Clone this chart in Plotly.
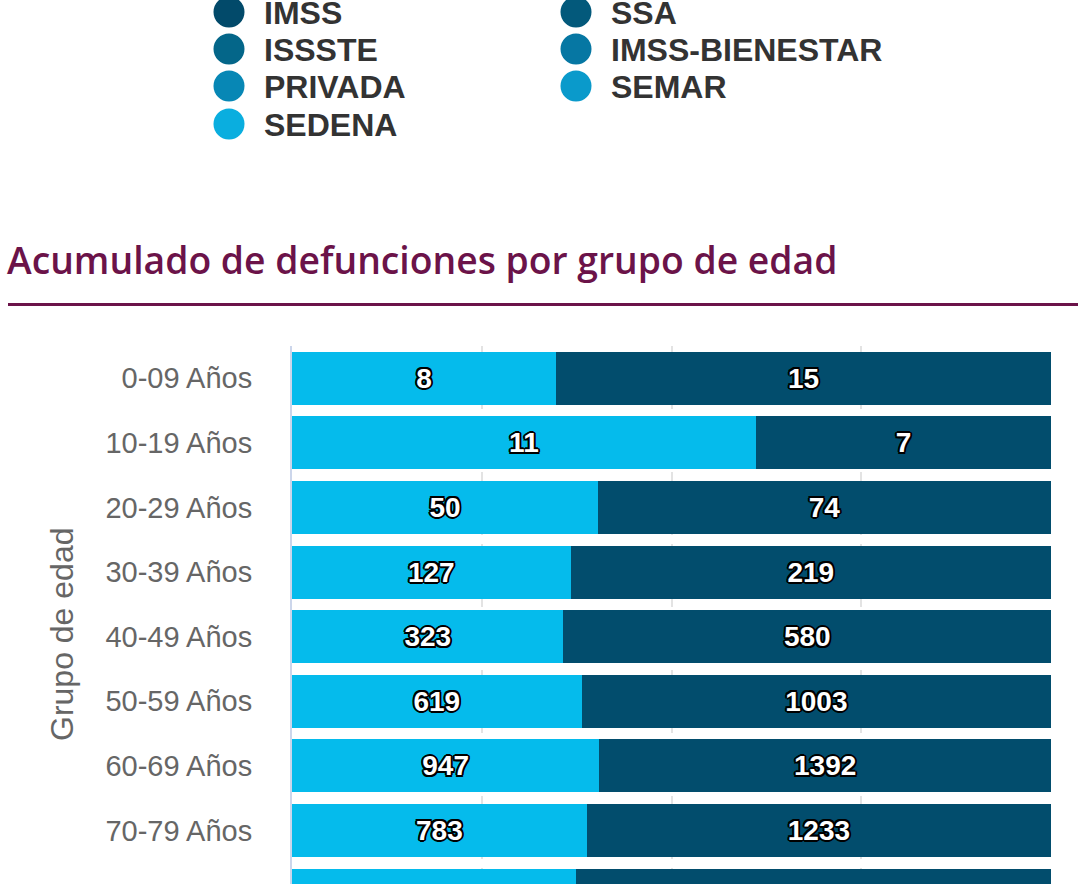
import plotly.graph_objects as go

# ---------------- data ----------------
age_groups = ["0-09 Años", "10-19 Años", "20-29 Años", "30-39 Años", "40-49 Años",
              "50-59 Años", "60-69 Años", "70-79 Años", "80-89 Años"]
series_a_name = "Mujeres"
series_a = [8, 11, 50, 127, 323, 619, 947, 783, 412]
series_b_name = "Hombres"
series_b = [15, 7, 74, 219, 580, 1003, 1392, 1233, 690]

legend_names = ["IMSS", "SSA", "ISSSTE", "IMSS-BIENESTAR", "PRIVADA", "SEMAR", "SEDENA"]
legend_colors = ["#024a6a", "#03597b", "#046689", "#0677a3", "#0787b5", "#0a9acb", "#0aaedf"]

title_text = "Acumulado de defunciones por grupo de edad"
yaxis_title = "Grupo de edad"

# ---------------- layout helpers ----------------
W, H = 1090, 884
L, R, T, B = 292, 1051, 346, 884
PW, PH = R - L, B - T
VISIBLE_LABEL_ROWS = 8  # rows whose value labels fall inside the visible window

def px(x):
    return (x - L) / PW

def py(y):
    return (B - y) / PH

FONT = "Liberation Sans, Arial, sans-serif"
TITLE_COLOR = "#6b1349"
outline = ("-1.5px -1.5px 0 #000, 1.5px -1.5px 0 #000, -1.5px 1.5px 0 #000, "
           "1.5px 1.5px 0 #000, 0 2px 0 #000, 0 -2px 0 #000, 2px 0 0 #000, -2px 0 0 #000")

fig = go.Figure()
for name, vals, color in [(series_a_name, series_a, "#05bbec"),
                          (series_b_name, series_b, "#024d6d")]:
    labels = [str(v) if i < VISIBLE_LABEL_ROWS else "" for i, v in enumerate(vals)]
    fig.add_trace(go.Bar(
        y=age_groups, x=vals, name=name, orientation="h",
        marker=dict(color=color, line=dict(width=0)),
        text=labels, texttemplate="%{text}", textposition="inside",
        insidetextanchor="middle", textangle=0, constraintext="none",
        textfont=dict(family=FONT, size=28, color="#ffffff", weight="bold", shadow=outline),
        showlegend=False, hoverinfo="skip",
    ))

shapes = []
annotations = []

# legend of the previous chart (top of page)
col_circle_x = [229, 576]
col_text_x = [264, 611]
row_y = [12, 49, 86, 124]
for i, (nm, col) in enumerate(zip(legend_names, legend_colors)):
    c, r = i % 2, i // 2
    cx, cy = col_circle_x[c], row_y[r]
    shapes.append(dict(type="circle", xref="paper", yref="paper",
                       x0=px(cx - 15.5), x1=px(cx + 15.5), y0=py(cy + 15.5), y1=py(cy - 15.5),
                       fillcolor=col, line=dict(width=0), layer="above"))
    annotations.append(dict(text=nm, xref="paper", yref="paper", x=px(col_text_x[c] - 2), y=py(cy + 1),
                            xanchor="left", yanchor="middle", showarrow=False,
                            font=dict(family=FONT, size=32, color="#333333", weight="bold")))

# section title and rule
annotations.append(dict(text=title_text, xref="paper", yref="paper", x=px(5), y=py(259),
                        xanchor="left", yanchor="middle", showarrow=False,
                        font=dict(family="Open Sans, sans-serif", size=37.3, color=TITLE_COLOR, weight=600)))
shapes.append(dict(type="line", xref="paper", yref="paper", x0=px(8), x1=px(1078),
                   y0=py(304.5), y1=py(304.5), line=dict(color=TITLE_COLOR, width=3)))

# y axis title
annotations.append(dict(text=yaxis_title, xref="paper", yref="paper", x=px(62), y=py(634),
                        xanchor="center", yanchor="middle", textangle=-90, showarrow=False,
                        font=dict(family=FONT, size=32, color="#666666")))

fig.update_layout(
    width=W, height=H,
    margin=dict(l=L, r=W - R, t=T, b=H - B, pad=0),
    paper_bgcolor="#ffffff", plot_bgcolor="#ffffff",
    barmode="stack", barnorm="percent", bargap=0.18,
    shapes=shapes, annotations=annotations,
    xaxis=dict(range=[0, 100], tickvals=[0, 25, 50, 75, 100], showticklabels=False,
               showgrid=True, gridcolor="#e3e3e3", gridwidth=2, griddash="dash",
               zeroline=False, showline=False, fixedrange=True),
    yaxis=dict(type="category", categoryorder="array", categoryarray=age_groups,
               range=[7.83, -0.5], showgrid=False, zeroline=False,
               showline=True, linecolor="#ccd6eb", linewidth=2,
               ticks="", ticklabelstandoff=32,
               tickfont=dict(family=FONT, size=29, color="#666666")),
    font=dict(family=FONT),
)

fig.write_html("out.html",
               config={"displayModeBar": False},
               post_script="document.body.style.margin='0';document.body.style.padding='0';")
